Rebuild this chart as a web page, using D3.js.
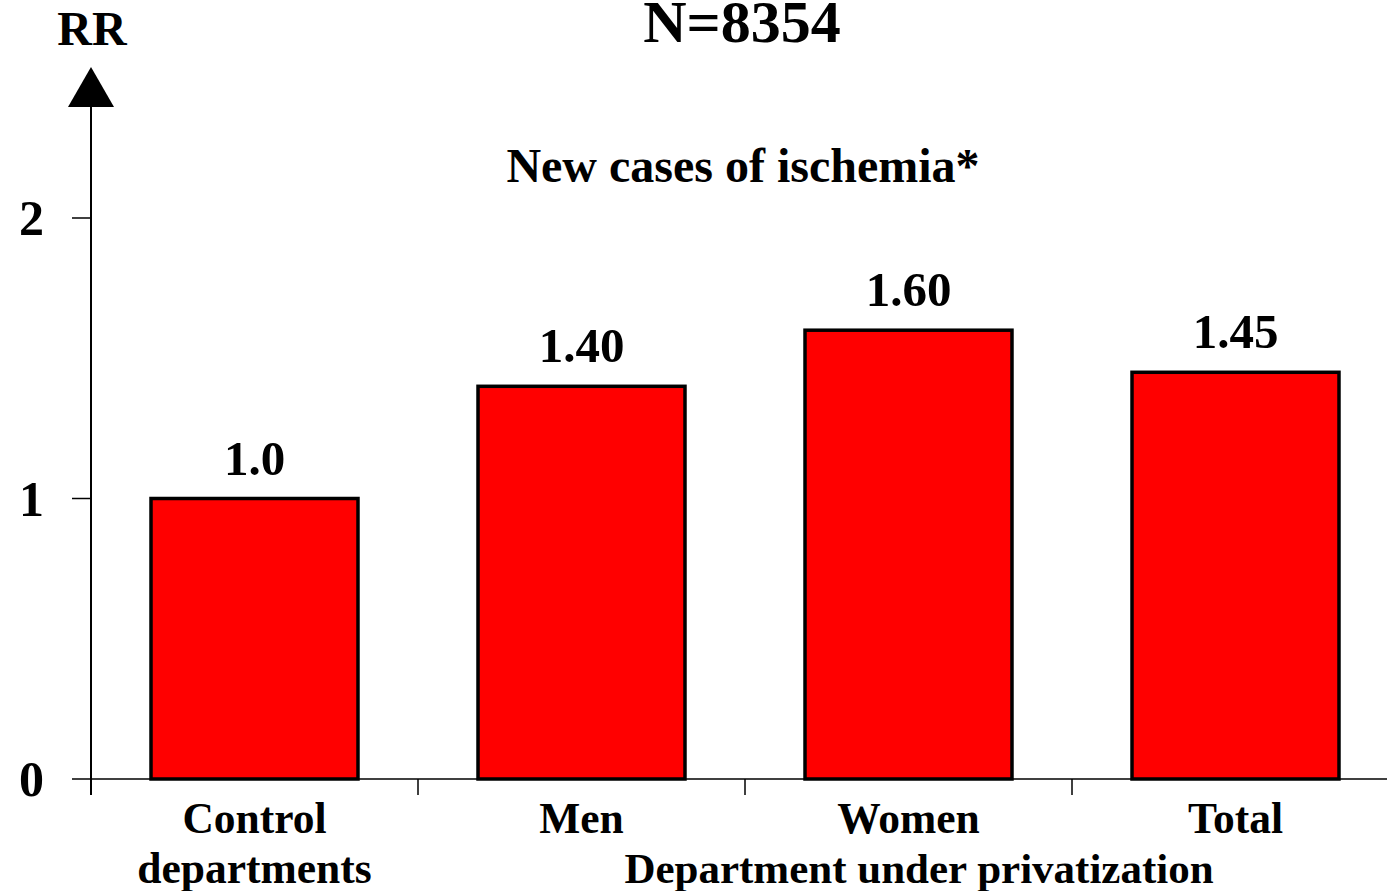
<!DOCTYPE html>
<html><head><meta charset="utf-8">
<script src="https://cdn.jsdelivr.net/npm/d3@7"></script>
<style>
html,body{margin:0;padding:0;background:#fff;overflow:hidden}
text{font-family:"Liberation Serif","Times New Roman",serif;font-weight:bold;fill:#000}
</style></head>
<body>
<svg id="c" width="1387" height="891"></svg>
<script>
const categories = ["Control departments","Men","Women","Total"];
const categoryLines = [["Control","departments"],["Men"],["Women"],["Total"]];
const values = [1.0, 1.40, 1.60, 1.45];
const valueLabels = ["1.0","1.40","1.60","1.45"];
const yTicks = [0,1,2];
const title = "N=8354";
const subtitle = "New cases of ischemia*";
const yLabel = "RR";
const groupLabel = "Department under privatization";

const svg = d3.select("#c");
const x0 = 91, x1 = 1399, yZero = 779, yTop2 = 218;
const pInner = 0.367;
const x = d3.scaleBand().domain(categories).range([x0,x1]).paddingInner(pInner).paddingOuter(pInner/2);
const y = d3.scaleLinear().domain([0,2]).range([yZero,yTop2]);

// baseline
svg.append("line").attr("x1",72).attr("x2",1387).attr("y1",y(0)).attr("y2",y(0))
  .attr("stroke","#000").attr("stroke-width",1.5);
// category ticks
const step = x.step();
categories.forEach(c=>{
  const tx = x(c) - step*pInner/2;
  svg.append("line").attr("x1",tx).attr("x2",tx).attr("y1",y(0)).attr("y2",y(0)+16)
    .attr("stroke","#000").attr("stroke-width",1.5);
});
// y ticks
yTicks.forEach(t=>{
  if(t>0) svg.append("line").attr("x1",72).attr("x2",x0).attr("y1",y(t)).attr("y2",y(t))
    .attr("stroke","#000").attr("stroke-width",1.5);
  svg.append("text").attr("x",44).attr("y",y(t)+17).attr("text-anchor","end")
    .attr("font-size",50).text(t);
});
// y axis
svg.append("line").attr("x1",x0).attr("x2",x0).attr("y1",105).attr("y2",y(0)+16)
  .attr("stroke","#000").attr("stroke-width",2);
svg.append("path").attr("d",`M${x0},67 L${x0-23},107 L${x0+23},107 Z`).attr("fill","#000");

// bars
svg.selectAll("rect.bar").data(values).enter().append("rect")
  .attr("x",(d,i)=>x(categories[i])).attr("width",x.bandwidth())
  .attr("y",d=>y(d)).attr("height",d=>y(0)-y(d))
  .attr("fill","#ff0000").attr("stroke","#000").attr("stroke-width",3.5);
// value labels
svg.selectAll("text.val").data(values).enter().append("text")
  .attr("x",(d,i)=>x(categories[i])+x.bandwidth()/2).attr("y",d=>y(d)-24)
  .attr("text-anchor","middle").attr("font-size",49).text((d,i)=>valueLabels[i]);
// category labels
categoryLines.forEach((lines,i)=>{
  lines.forEach((ln,j)=>{
    svg.append("text").attr("x",x(categories[i])+x.bandwidth()/2).attr("y",833+j*50)
      .attr("text-anchor","middle").attr("font-size",43.5).text(ln);
  });
});
svg.append("text").attr("x",919).attr("y",883).attr("text-anchor","middle").attr("font-size",43).text(groupLabel);

svg.append("text").attr("x",742).attr("y",42).attr("text-anchor","middle").attr("font-size",60).text(title);
svg.append("text").attr("x",743).attr("y",182).attr("text-anchor","middle").attr("font-size",48).text(subtitle);
svg.append("text").attr("x",92).attr("y",45).attr("text-anchor","middle").attr("font-size",48).text(yLabel);
</script>
</body></html>
